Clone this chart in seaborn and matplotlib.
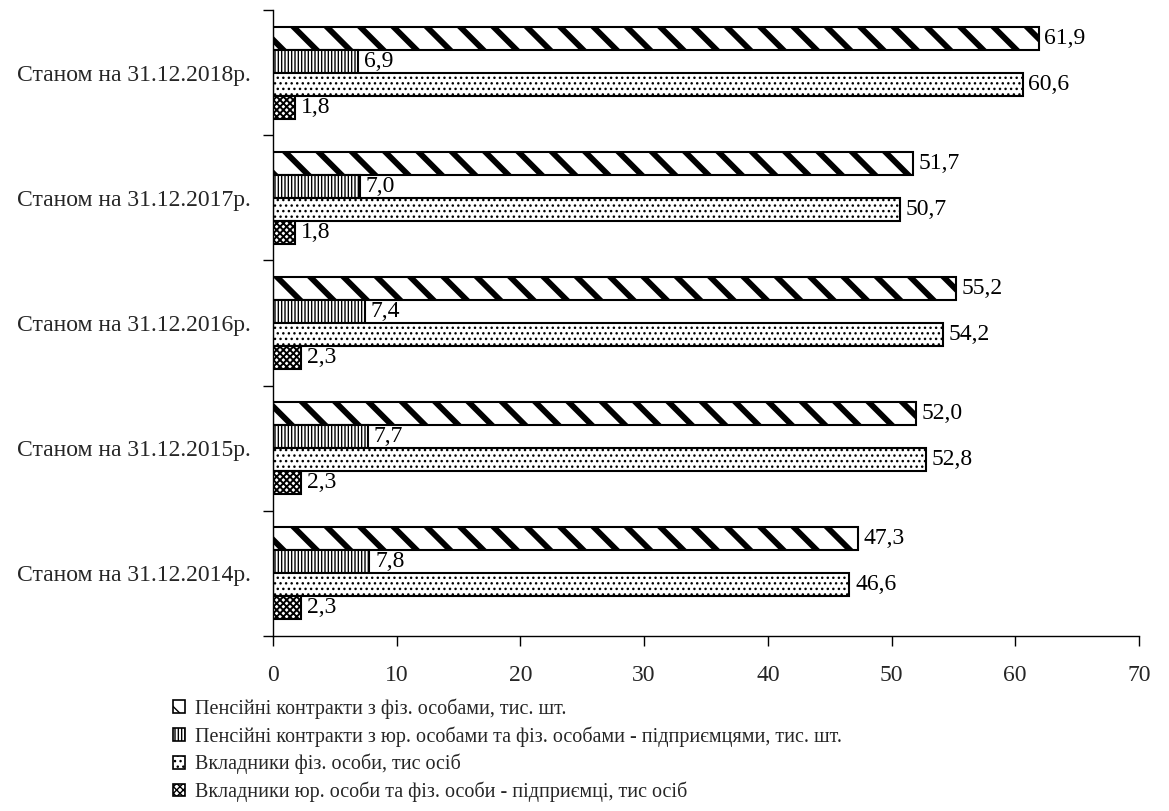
import matplotlib
matplotlib.use("Agg")
import matplotlib.pyplot as plt
import matplotlib.patches as mpatches
import seaborn as sns
import pandas as pd

# Dates (top to bottom)
dates = [
    "Станом на 31.12.2018р.",
    "Станом на 31.12.2017р.",
    "Станом на 31.12.2016р.",
    "Станом на 31.12.2015р.",
    "Станом на 31.12.2014р.",
]

series_names = [
    "Пенсійні контракти з фіз. особами, тис. шт.",
    "Пенсійні контракти з юр. особами та фіз. особами - підприємцями, тис. шт.",
    "Вкладники фіз. особи, тис осіб",
    "Вкладники юр. особи та фіз. особи - підприємці, тис осіб",
]

contracts_individuals = [61.9, 51.7, 55.2, 52.0, 47.3]
contracts_legal = [6.9, 7.0, 7.4, 7.7, 7.8]
depositors_individuals = [60.6, 50.7, 54.2, 52.8, 46.6]
depositors_legal = [1.8, 1.8, 2.3, 2.3, 2.3]

x_ticks = [0, 10, 20, 30, 40, 50, 60, 70]

series_values = [contracts_individuals, contracts_legal,
                 depositors_individuals, depositors_legal]

rows = []
for name, vals in zip(series_names, series_values):
    for d, v in zip(dates, vals):
        rows.append({"date": d, "series": name, "value": v})
df = pd.DataFrame(rows)

sns.set_theme(style="white")
plt.rcParams["font.family"] = ["Liberation Serif", "DejaVu Serif"]
plt.rcParams["hatch.color"] = "black"

fig = plt.figure(figsize=(11.69, 8.11), dpi=100)
ax = fig.add_axes([0.2335, 0.2158, 0.7408, 0.7719])

palette = ["white"] * 4
sns.barplot(data=df, y="date", x="value", hue="series", order=dates,
            hue_order=series_names, palette=palette, orient="h",
            width=0.735, edgecolor="black", linewidth=1.5, legend=False,
            ax=ax, saturation=1)

hatches = ["\\", "|||||", "...", "xxxxx"]
hatch_lw = [4.2, 1.0, 1.0, 1.4]
legend_hatch_lw = [4.0, 0.8, 0.8, 1.0]

for cont, h, lw in zip(ax.containers, hatches, hatch_lw):
    for bar in cont:
        bar.set_hatch(h)
        if hasattr(bar, "set_hatch_linewidth"):
            bar.set_hatch_linewidth(lw)
    ax.bar_label(cont, labels=[f"{b.get_width():.1f}".replace(".", ",") for b in cont],
                 padding=4, fontsize=17, color="black")

ax.set_xlim(0, 70)
ax.set_xticks(x_ticks)
ax.set_xticklabels([str(t) for t in x_ticks], fontsize=17)
ax.set_ylim(len(dates) - 0.5, -0.5)
ax.set_xlabel("")
ax.set_ylabel("")
ax.tick_params(axis="y", which="major", left=False, length=0, labelsize=17, pad=16)
ax.set_yticks([i + 0.5 for i in range(-1, len(dates))], minor=True)
ax.tick_params(axis="y", which="minor", left=True, length=7, width=1,
               color="black", direction="out")
ax.tick_params(axis="x", which="major", bottom=True, length=7, width=1,
               color="black", direction="out", pad=14)
for s in ["top", "right"]:
    ax.spines[s].set_visible(False)
for s in ["left", "bottom"]:
    ax.spines[s].set_color("black")
    ax.spines[s].set_linewidth(1)
ax.grid(False)

handles = []
for h, lw in zip(hatches, legend_hatch_lw):
    p = mpatches.Patch(facecolor="white", edgecolor="black", hatch=h, linewidth=1.2)
    if hasattr(p, "set_hatch_linewidth"):
        p.set_hatch_linewidth(lw)
    handles.append(p)
fig.legend(handles, series_names, loc="upper left",
           bbox_to_anchor=(0.148, 0.139), frameon=False, fontsize=14.5,
           handlelength=0.6, handleheight=0.6, handletextpad=0.5,
           labelspacing=0.36, borderaxespad=0, borderpad=0)

fig.savefig("out.png", dpi=100)
